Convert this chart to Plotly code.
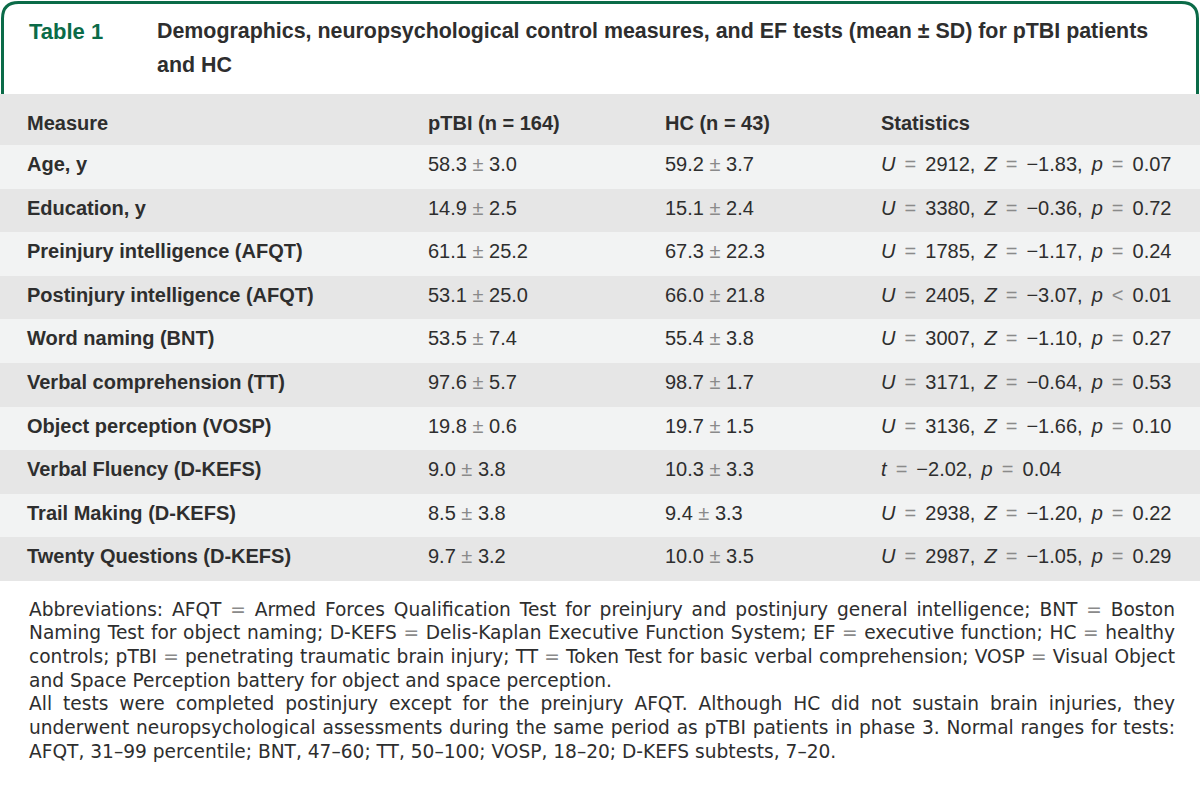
import plotly.graph_objects as go

W, H = 1200, 797

# ---- data ----
measures = ["Age, y", "Education, y", "Preinjury intelligence (AFQT)",
            "Postinjury intelligence (AFQT)", "Word naming (BNT)",
            "Verbal comprehension (TT)", "Object perception (VOSP)",
            "Verbal Fluency (D-KEFS)", "Trail Making (D-KEFS)",
            "Twenty Questions (D-KEFS)"]
ptbi_mean = ["58.3", "14.9", "61.1", "53.1", "53.5", "97.6", "19.8", "9.0", "8.5", "9.7"]
ptbi_sd = ["3.0", "2.5", "25.2", "25.0", "7.4", "5.7", "0.6", "3.8", "3.8", "3.2"]
hc_mean = ["59.2", "15.1", "67.3", "66.0", "55.4", "98.7", "19.7", "10.3", "9.4", "10.0"]
hc_sd = ["3.7", "2.4", "22.3", "21.8", "3.8", "1.7", "1.5", "3.3", "3.3", "3.5"]
stat_U = ["2912", "3380", "1785", "2405", "3007", "3171", "3136", None, "2938", "2987"]
stat_Z = ["−1.83", "−0.36", "−1.17", "−3.07", "−1.10", "−0.64", "−1.66", None, "−1.20", "−1.05"]
stat_t = [None, None, None, None, None, None, None, "−2.02", None, None]
stat_p = ["= 0.07", "= 0.72", "= 0.24", "< 0.01", "= 0.27", "= 0.53", "= 0.10", "= 0.04", "= 0.22", "= 0.29"]
headers = ["Measure", "pTBI (n = 164)", "HC (n = 43)", "Statistics"]

title_label = "Table 1"
title_lines = ["Demographics, neuropsychological control measures, and EF tests (mean ± SD) for pTBI patients",
               "and HC"]
footnote_lines = [
    "Abbreviations: AFQT = Armed Forces Qualification Test for preinjury and postinjury general intelligence; BNT = Boston",
    "Naming Test for object naming; D-KEFS = Delis-Kaplan Executive Function System; EF = executive function; HC = healthy",
    "controls; pTBI = penetrating traumatic brain injury; TT = Token Test for basic verbal comprehension; VOSP = Visual Object",
    "and Space Perception battery for object and space perception.",
    "All tests were completed postinjury except for the preinjury AFQT. Although HC did not sustain brain injuries, they",
    "underwent neuropsychological assessments during the same period as pTBI patients in phase 3. Normal ranges for tests:",
    "AFQT, 31–99 percentile; BNT, 47–60; TT, 50–100; VOSP, 18–20; D-KEFS subtests, 7–20.",
]
justified = [True, True, True, False, True, True, False]

GREEN = "#0b6b48"
TXT = "#2e2e2e"
SYM = "#8a8a8a"
HEAD_BG = "#e6e6e6"
ROW_LIGHT = "#f2f3f3"
ROW_DARK = "#e6e6e6"


def stat(u, z, t, p):
    if t is not None:
        return f"<i>t</i> = {t}, <i>p</i> {p}"
    return f"<i>U</i> = {u}, <i>Z</i> = {z}, <i>p</i> {p}"


col_measure = [f"<b>{m}</b>" for m in measures]
col_ptbi = [f"<span>{m} ± {s}</span>" for m, s in zip(ptbi_mean, ptbi_sd)]
col_hc = [f"<span>{m} ± {s}</span>" for m, s in zip(hc_mean, hc_sd)]
col_stat = [stat(u, z, t, p) for u, z, t, p in zip(stat_U, stat_Z, stat_t, stat_p)]
col_pad = [""] * len(measures)

row_fill = [ROW_LIGHT if i % 2 == 0 else ROW_DARK for i in range(len(measures))]

TOP = 94          # top of grey header band
HEAD_TOP = 104    # table domain top (text sits lower in the band)
ROW_TOP = 145
ROW_H = 43.6
table_bottom = ROW_TOP + ROW_H * len(measures) + 4


def py(y):
    return 1 - y / H


def px(x):
    return x / W


fig = go.Figure(go.Table(
    domain=dict(x=[0, 1], y=[py(table_bottom), py(HEAD_TOP)]),
    columnwidth=[19, 401, 237, 216, 327],
    header=dict(
        values=[""] + [f"<b>{h}</b>" for h in headers],
        fill_color=HEAD_BG,
        line=dict(color=HEAD_BG, width=0),
        align="left",
        height=ROW_TOP - HEAD_TOP,
        font=dict(family="Liberation Sans", size=20, color=TXT),
    ),
    cells=dict(
        values=[col_pad, col_measure, col_ptbi, col_hc, col_stat],
        fill_color=[row_fill] * 5,
        line=dict(color=[row_fill] * 5, width=0),
        align="left",
        height=ROW_H,
        font=dict(family="Liberation Sans", size=20, color=TXT),
    ),
))

# grey strip above the table header
fig.add_shape(type="rect", xref="paper", yref="paper",
              x0=0, x1=1, y0=py(HEAD_TOP + 0.5), y1=py(TOP),
              fillcolor=HEAD_BG, line=dict(width=0))

# title box outline (rounded top corners)
r = 16
x0, x1, y0, y1 = 2.5, 1197.5, 2.5, TOP
path = (f"M {px(x0)},{py(y1)} L {px(x0)},{py(y0 + r)} "
        f"Q {px(x0)},{py(y0)} {px(x0 + r)},{py(y0)} "
        f"L {px(x1 - r)},{py(y0)} "
        f"Q {px(x1)},{py(y0)} {px(x1)},{py(y0 + r)} "
        f"L {px(x1)},{py(y1)}")
fig.add_shape(type="path", path=path, xref="paper", yref="paper",
              line=dict(color=GREEN, width=3))

annotations = [
    dict(text=f"<b>{title_label}</b>", x=px(27), y=py(31), xanchor="left", yanchor="middle",
         font=dict(family="Liberation Sans", size=22, color=GREEN)),
]
for i, line in enumerate(title_lines):
    annotations.append(dict(text=f"<b>{line}</b>", x=px(155), y=py(31 + 34 * i),
                            xanchor="left", yanchor="middle",
                            font=dict(family="Liberation Sans", size=21.4, color=TXT)))
for i, line in enumerate(footnote_lines):
    annotations.append(dict(text=line.replace(" = ", f" <span style='color:{SYM}'>=</span> "),
                            x=px(27), y=py(609 + 23.7 * i),
                            xanchor="left", yanchor="middle", align="left",
                            font=dict(family="DejaVu Sans", size=18.6, color=TXT)))
for a in annotations:
    a.update(xref="paper", yref="paper", showarrow=False)

fig.update_layout(
    width=W, height=H,
    margin=dict(l=0, r=0, t=0, b=0),
    paper_bgcolor="white",
    annotations=annotations,
)

# page margin off; justify footnote lines; grey math symbols in table body cells
first_note = 1 + len(title_lines)
just_idx = [first_note + i for i, j in enumerate(justified) if j]
post = """
document.body.style.margin = '0';
var gd = document.getElementById('{plot_id}');
var texts = gd.querySelectorAll('g.annotation text.annotation-text');
%s.forEach(function (i) {
  var t = texts[i];
  if (!t) return;
  var n = (t.textContent.match(/ /g) || []).length;
  var w = t.getComputedTextLength();
  if (n > 0) t.style.wordSpacing = ((1146 - w) / n) + 'px';
});
gd.querySelectorAll('.table text').forEach(function (el) {
  var s = el.textContent;
  var isStat = /^[Ut] =/.test(s);
  if (!(s.indexOf('±') >= 0 || isStat)) return;
  if (isStat) el.style.wordSpacing = '3.5px';
  var walker = document.createTreeWalker(el, NodeFilter.SHOW_TEXT);
  var nodes = [];
  while (walker.nextNode()) nodes.push(walker.currentNode);
  nodes.forEach(function (n) {
    var parts = n.nodeValue.split(/([±=<])/);
    if (parts.length < 2) return;
    var frag = document.createDocumentFragment();
    parts.forEach(function (p) {
      if (!p) return;
      if (p === '±' || p === '=' || p === '<') {
        var ts = document.createElementNS('http://www.w3.org/2000/svg', 'tspan');
        ts.style.fill = '%s';
        ts.textContent = p;
        frag.appendChild(ts);
      } else {
        frag.appendChild(document.createTextNode(p));
      }
    });
    n.parentNode.replaceChild(frag, n);
  });
});
""" % (str(just_idx), SYM)

fig.write_html("out.html", post_script=post, config={"displayModeBar": False})
